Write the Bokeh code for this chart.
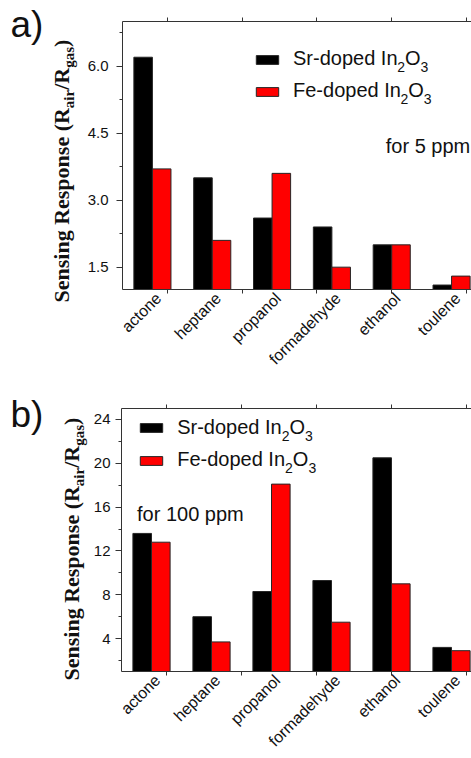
import math
from bokeh.plotting import figure
from bokeh.models import (Range1d, FixedTicker, LinearAxis, Label, Legend, LegendItem,
                          CustomJSTickFormatter, NumeralTickFormatter, ColumnDataSource)
from bokeh.transform import dodge
from bokeh.layouts import column, row
from bokeh.embed import file_html
from bokeh.resources import INLINE

# ---------------- data ----------------
categories = ["actone", "heptane", "propanol", "formadehyde", "ethanol", "toulene"]
sr_5ppm = [6.2, 3.5, 2.6, 2.4, 2.0, 1.1]
fe_5ppm = [3.7, 2.1, 3.6, 1.5, 2.0, 1.3]
sr_100ppm = [13.6, 6.0, 8.3, 9.3, 20.5, 3.2]
fe_100ppm = [12.8, 3.7, 18.1, 5.5, 9.0, 2.9]
series_labels = ["Sr-doped In", "Fe-doped In"]
y_ticks_a = [1.5, 3.0, 4.5, 6.0]
y_minor_a = [2.25, 3.75, 5.25, 6.75]
y_ticks_b = [4, 8, 12, 16, 20, 24]
y_minor_b = [2, 6, 10, 14, 18, 22]
x_minor = [1.25, 2.5, 3.75, 5.0, 6.25]

BLACK = "#000000"
RED = "#ff0000"
EDGE = "#262626"
TXT = "#111111"
AX = "#333333"
SANS = "Liberation Sans"
SERIF = "Liberation Serif"

# font widths (per 1000 em) used to chain sub/superscript pieces
TIMES_B = {"S": 556, "e": 444, "n": 556, "s": 389, "i": 278, "g": 500, " ": 250,
           "R": 722, "p": 556, "o": 500, "(": 333, "a": 500, "r": 444, "/": 278, ")": 333}
ARIAL = {"S": 667, "r": 333, "-": 333, "d": 556, "o": 556, "p": 556, "e": 556, " ": 278,
         "I": 278, "n": 556, "F": 611, "O": 778, "2": 556, "3": 556}
BASE_SHIFT = 0.35   # label anchor sits this many em above the drawn baseline


def tw(text, size, table):
    return sum(table[c] for c in text) * size / 1000.0


PAGE_W = 471
FRAME_LEFT = 121      # page x of the plot frame's left edge
X0 = 0.5
PX_PER_CAT = 60.0
BOTTOM_AXIS = 87


def make_panel(sr, fe, y0, y1, yticks, yminor, fmt, fig_top, height, frame_top,
               label_w, tick_standoff):
    border_top = frame_top - fig_top
    frame_bottom = fig_top + height - BOTTOM_AXIS
    frame_h = frame_bottom - frame_top
    main_w = PAGE_W - label_w
    border_left = FRAME_LEFT - label_w
    x1 = X0 + (PAGE_W - FRAME_LEFT) / PX_PER_CAT
    ys = frame_h / (y1 - y0)

    def D(px, py):
        return X0 + (px - FRAME_LEFT) / PX_PER_CAT, y0 + (frame_bottom - py) / ys

    # side strip that carries the panel letter and the rotated axis title
    lab = figure(width=label_w, height=height, output_backend="svg", toolbar_location=None,
                 x_range=Range1d(0, label_w), y_range=Range1d(0, height),
                 x_axis_type=None, y_axis_type=None, min_border=0, outline_line_color=None,
                 background_fill_color="white", border_fill_color="white", frame_align=False)
    lab.xgrid.visible = False
    lab.ygrid.visible = False

    def L(px, py):
        return px, height - (py - fig_top)

    p = figure(width=main_w, height=height, output_backend="svg", toolbar_location=None,
               x_range=Range1d(X0, x1), y_range=Range1d(y0, y1),
               min_border_left=border_left, min_border_right=0, min_border_top=border_top,
               min_border_bottom=BOTTOM_AXIS, outline_line_color=None,
               background_fill_color="white", border_fill_color="white", frame_align=False)
    p.xgrid.visible = False
    p.ygrid.visible = False

    src = ColumnDataSource(dict(pos=list(range(1, len(categories) + 1)), sr=sr, fe=fe))
    r_sr = p.vbar(x=dodge("pos", -0.155, range=p.x_range), top="sr", bottom=0, width=0.31,
                  source=src, fill_color=BLACK, line_color=EDGE, line_width=1)
    r_fe = p.vbar(x=dodge("pos", 0.155, range=p.x_range), top="fe", bottom=0, width=0.31,
                  source=src, fill_color=RED, line_color=EDGE, line_width=1)

    # bottom axis
    xa = p.xaxis[0]
    xa.ticker = FixedTicker(ticks=[i + 1.1 for i in range(len(categories))], minor_ticks=x_minor)
    xa.formatter = CustomJSTickFormatter(args=dict(labels=categories),
                                         code="return labels[Math.round(tick) - 1];")
    xa.major_label_orientation = math.pi / 4
    xa.major_label_text_font = SANS
    xa.major_label_text_font_size = "16px"
    xa.major_label_text_color = TXT
    xa.major_label_standoff = 2
    xa.major_tick_out = 0
    xa.major_tick_in = 0
    xa.minor_tick_out = 4
    xa.minor_tick_in = 0
    xa.axis_line_color = AX
    xa.minor_tick_line_color = AX

    # left axis
    ya = p.yaxis[0]
    ya.ticker = FixedTicker(ticks=yticks, minor_ticks=yminor)
    ya.formatter = NumeralTickFormatter(format=fmt)
    ya.major_label_text_font = SANS
    ya.major_label_text_font_size = "15px"
    ya.major_label_text_color = TXT
    ya.major_label_standoff = tick_standoff
    ya.major_tick_out = 6
    ya.major_tick_in = 0
    ya.minor_tick_out = 3
    ya.minor_tick_in = 0
    ya.axis_line_color = AX
    ya.major_tick_line_color = AX
    ya.minor_tick_line_color = AX

    # top frame line with minor ticks
    top = LinearAxis(ticker=FixedTicker(ticks=[], minor_ticks=x_minor),
                     major_label_text_font_size="0px", major_tick_out=0, major_tick_in=0,
                     minor_tick_out=4, minor_tick_in=0, axis_line_color=AX,
                     minor_tick_line_color=AX)
    p.add_layout(top, "above")

    return p, lab, r_sr, r_fe, D, L, frame_bottom


def add_ylabel(fig, L, start_py, base_px):
    pieces = [("Sensing Response (R", 22, 0), ("air", 15, 5), ("/R", 22, 0),
              ("gas", 15, 5), (")", 22, 0)]
    py = start_py
    for text, size, drop in pieces:
        x, y = L(base_px + drop - BASE_SHIFT * size, py)
        fig.add_layout(Label(x=x, y=y, text=text, angle=math.pi / 2, text_align="left",
                             text_baseline="alphabetic", text_font=SERIF, text_font_style="bold",
                             text_font_size=f"{size}px", text_color=TXT))
        py -= tw(text, size, TIMES_B)


def add_text(fig, T, px, py, text, size):
    x, y = T(px, py - BASE_SHIFT * size)
    fig.add_layout(Label(x=x, y=y, text=text, text_align="left", text_baseline="alphabetic",
                         text_font=SANS, text_font_size=f"{size}px", text_color=TXT))


def add_legend_text(fig, D, px, py, label):
    pieces = [(label, 20, 0), ("2", 14, 7), ("O", 20, 0), ("3", 14, 7)]
    for text, size, drop in pieces:
        add_text(fig, D, px, py + drop, text, size)
        px += tw(text, size, ARIAL)


def add_legend(p, r_sr, r_fe, frame_bottom, left_px, bottom_px, spacing):
    leg = Legend(items=[LegendItem(label=" ", renderers=[r_sr]),
                        LegendItem(label=" ", renderers=[r_fe])],
                 location=(left_px - FRAME_LEFT, frame_bottom - bottom_px),
                 glyph_width=28, glyph_height=11, label_height=11, label_width=0,
                 label_standoff=0, label_text_font_size="1px", spacing=spacing, padding=0,
                 margin=0, border_line_color=None, background_fill_alpha=0)
    p.add_layout(leg)


# ---------------- panel a ----------------
HA = 21 + 268 + BOTTOM_AXIS
pa, la, a_sr, a_fe, Da, La, fba = make_panel(sr_5ppm, fe_5ppm, 1.0, 7.0, y_ticks_a, y_minor_a,
                                             "0.0", 0, HA, 21, 84, 8)
add_text(la, La, 10, 37, "a)", 37)
add_ylabel(la, La, 302, 69)
add_legend(pa, a_sr, a_fe, fba, 251.7, 96.7, 21)
add_legend_text(pa, Da, 292, 64, series_labels[0])
add_legend_text(pa, Da, 292, 96.7, series_labels[1])
add_text(pa, Da, 385, 152.5, "for 5 ppm", 20)

# ---------------- panel b ----------------
TOP_B = HA
HB = 758 - TOP_B
pb, lb, b_sr, b_fe, Db, Lb, fbb = make_panel(sr_100ppm, fe_100ppm, 1.0, 25.0, y_ticks_b,
                                             y_minor_b, "0", TOP_B, HB, 408, 88, 5)
add_text(lb, Lb, 10, 427, "b)", 37)
add_ylabel(lb, Lb, 680, 79)
add_legend(pb, b_sr, b_fe, fbb, 136.7, 466, 22)
add_legend_text(pb, Db, 176.7, 433.3, series_labels[0])
add_legend_text(pb, Db, 176.7, 465, series_labels[1])
add_text(pb, Db, 136.5, 520, "for 100 ppm", 20)

layout = column(row(la, pa, spacing=0), row(lb, pb, spacing=0), spacing=0)
open("out.html", "w").write(file_html(layout, INLINE))
